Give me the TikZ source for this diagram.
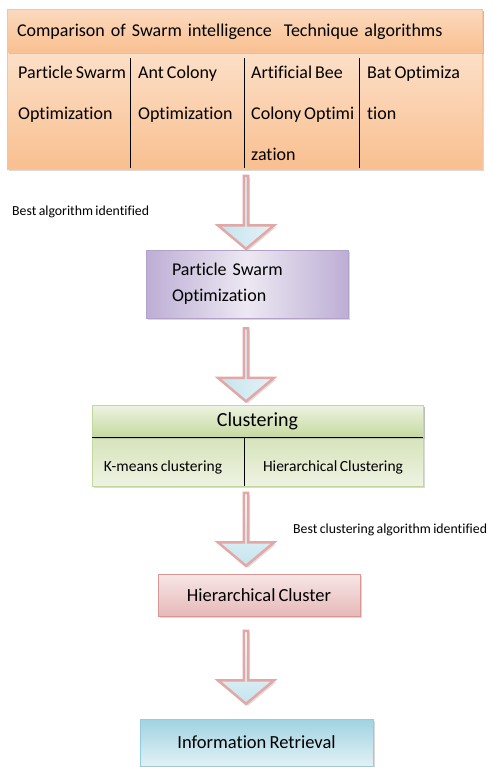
\documentclass[tikz,border=0pt]{standalone}
\usepackage{fontspec}
\setmainfont{Carlito}[Ligatures=NoCommon,WordSpace=0.75]
\usetikzlibrary{positioning,shapes.arrows,shadows}

\definecolor{orangeedge}{HTML}{F6C39C}
\definecolor{orangelight}{HTML}{FDEBDC}
\definecolor{orangedark}{HTML}{F9BF8F}
\definecolor{purpleedge}{HTML}{B3A2C7}
\definecolor{purplelight}{HTML}{ECE8F2}
\definecolor{purpledark}{HTML}{BDAED5}
\definecolor{greenedge}{HTML}{C3D69B}
\definecolor{greenlight}{HTML}{EEF3E2}
\definecolor{greendark}{HTML}{C6D9A0}
\definecolor{pinkedge}{HTML}{D99694}
\definecolor{pinklight}{HTML}{F7E6E6}
\definecolor{pinkdark}{HTML}{E6B9B8}
\definecolor{blueedge}{HTML}{93CDDD}
\definecolor{bluelight}{HTML}{E2F1F6}
\definecolor{bluedark}{HTML}{9FD3E1}
\definecolor{arrowedge}{HTML}{E3A7A5}
\definecolor{arrowfill}{HTML}{C4E4EE}

\begin{document}
\begin{tikzpicture}[x=1pt,y=-1pt,
  box/.style={draw,rectangle,inner sep=0pt,line width=1pt,
    drop shadow={shadow xshift=1.5pt,shadow yshift=-1.5pt,opacity=0.3}},
  fatarrow/.style={single arrow,draw=arrowedge,line width=2.5pt,
    minimum height=73pt,minimum width=56pt,inner sep=0pt,
    single arrow head extend=15.5pt,single arrow tip angle=100,
    shape border rotate=270,
    drop shadow={shadow xshift=2pt,shadow yshift=-2pt,opacity=0.25}},
  bluearrow/.style={fatarrow,left color=arrowfill,right color=arrowfill!45!white},
  palearrow/.style={fatarrow,top color=white,bottom color=arrowfill},
  note/.style={font=\fontsize{13.8}{16}\selectfont,anchor=west,inner sep=0pt},
  coltext/.style={font=\fontsize{18}{41}\selectfont,anchor=north west,
    align=left,inner sep=0pt}
]
  \useasboundingbox (0,0) rectangle (492,767);

  % comparison table
  \node (cmp) [box,draw=orangeedge,top color=orangelight,bottom color=orangedark,
    minimum width=475pt,minimum height=160pt] at (244.5,90) {};
  \node (cmptitle) [box,draw=orangeedge,top color=orangelight!60!orangedark,
    bottom color=orangedark,minimum width=475pt,minimum height=43pt,
    text width=455pt,align=left,font=\fontsize{18}{20}\selectfont]
    at (244.5,31.5) {Comparison of Swarm intelligence\ \ Technique algorithms};
  \draw[line width=0.8pt] (130,58) -- (130,168);
  \draw[line width=0.8pt] (244,58) -- (244,168);
  \draw[line width=0.8pt] (359,58) -- (359,168);
  \node (pso1) [coltext] at (18,66) {Particle Swarm\\Optimization};
  \node (aco) [coltext] at (138,66) {Ant Colony\\Optimization};
  \node (abc) [coltext] at (251,66) {Artificial Bee\\Colony Optimi\\zation};
  \node (bat) [coltext] at (367,66) {Bat Optimiza\\tion};

  % chosen algorithm
  \node (pso) [box,draw=purpleedge,left color=purpledark,right color=purpledark,
    middle color=purplelight,minimum width=202pt,minimum height=68pt,
    text width=150pt,align=left,font=\fontsize{18}{26}\selectfont]
    at (247,284) {Particle Swarm\\Optimization};

  % clustering table
  \node (clu) [box,draw=greenedge,top color=greendark,bottom color=greenlight,
    minimum width=331pt,minimum height=81pt] at (257.5,445.5) {};
  \node (clutitle) [box,draw=greenedge,top color=greenlight,bottom color=greendark,
    minimum width=331pt,minimum height=32pt,font=\fontsize{20}{22}\selectfont]
    at (257.5,421) {Clustering};
  \draw[line width=0.8pt] (92,437) -- (423,437);
  \draw[line width=0.8pt] (244,437) -- (244,486);
  \node (kmeans) [font=\fontsize{15.5}{17}\selectfont,inner sep=0pt]
    at (163,467) {K-means clustering};
  \node (hier) [font=\fontsize{15.5}{17}\selectfont,inner sep=0pt]
    at (333,467) {Hierarchical Clustering};

  % result and retrieval
  \node (hcl) [box,draw=pinkedge,top color=pinklight,bottom color=pinkdark,
    minimum width=202pt,minimum height=42pt,font=\fontsize{18.5}{20}\selectfont]
    at (259,595) {Hierarchical Cluster};
  \node (ir) [box,draw=blueedge,top color=bluedark,bottom color=bluelight,
    minimum width=233pt,minimum height=47pt,font=\fontsize{18.5}{20}\selectfont]
    at (256.5,742.5) {Information Retrieval};

  % block arrows
  \node (a1) [bluearrow] at (246,211.5) {};
  \node (a2) [bluearrow] at (246,364) {};
  \node (a3) [palearrow] at (246,528.5) {};
  \node (a4) [palearrow] at (246,666.5) {};

  \node (best1) [note] at (12,212) {Best algorithm identified};
  \node (best2) [note] at (293,530) {Best clustering algorithm identified};
\end{tikzpicture}
\end{document}
